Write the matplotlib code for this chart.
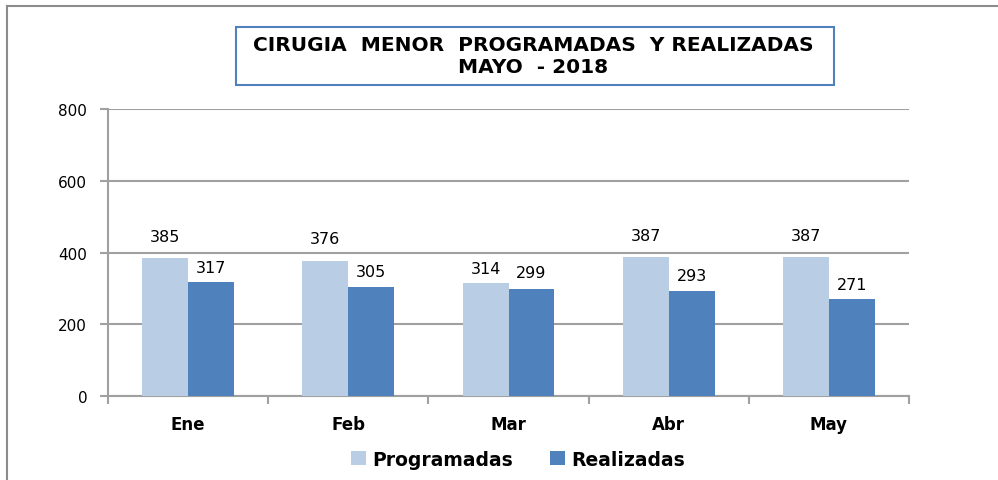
import matplotlib.pyplot as plt
import numpy as np
from matplotlib.lines import Line2D
from matplotlib.patches import Rectangle

# Data
meses = ["Ene", "Feb", "Mar", "Abr", "May"]
programadas = [385, 376, 314, 387, 387]
realizadas = [317, 305, 299, 293, 271]

titulo = "CIRUGIA  MENOR  PROGRAMADAS  Y REALIZADAS\nMAYO  - 2018"

c_prog = "#B9CDE5"
c_real = "#4F81BD"
grid_c = "#A0A0A0"

# label lift above the bar top (pixels), as placed in the original
lift_prog = [21, 23, 15, 22, 22]
lift_real = [15, 15, 16, 15, 14]

plt.rcParams["font.family"] = ["DejaVu Sans"]

fig = plt.figure(figsize=(9.98, 4.81), dpi=100)
ax = fig.add_axes([108 / 998, 1 - 397 / 481, (909 - 108) / 998, (397 - 110) / 481])

x = np.arange(len(meses))
w = 0.287
b1 = ax.bar(x - w / 2, programadas, w, color=c_prog, label="Programadas", zorder=3)
b2 = ax.bar(x + w / 2, realizadas, w, color=c_real, label="Realizadas", zorder=3)

for bars, lifts in ((b1, lift_prog), (b2, lift_real)):
    for r, lift in zip(bars, lifts):
        ax.annotate(f"{int(r.get_height())}", (r.get_x() + r.get_width() / 2, r.get_height()),
                    xytext=(0, lift * 0.72), textcoords="offset points", ha="center",
                    va="center", fontsize=11.5, color="black")

ax.set_xlim(-0.5, len(meses) - 0.5)
ax.set_ylim(0, 800)
ax.set_yticks([0, 200, 400, 600, 800])
ax.yaxis.grid(True, color=grid_c, linewidth=1.5, zorder=0)
ax.set_axisbelow(True)

ax.set_xticks(x)
ax.set_xticklabels(meses, fontsize=12, fontweight="bold")
ax.set_xticks(np.arange(len(meses) + 1) - 0.5, minor=True)
ax.tick_params(axis="x", which="major", length=0, pad=14)
ax.tick_params(axis="x", which="minor", length=6, color=grid_c, width=1.5, direction="out")
ax.tick_params(axis="y", length=6, color=grid_c, width=1.5, labelsize=11, pad=9)

for s in ("top", "right"):
    ax.spines[s].set_visible(False)
for s in ("left", "bottom"):
    ax.spines[s].set_color(grid_c)
    ax.spines[s].set_linewidth(1.5)

leg = fig.legend(loc="center", bbox_to_anchor=(518 / 998, 1 - 460 / 481), ncol=2,
                 frameon=False, prop={"weight": "bold", "size": 13.5},
                 handlelength=0.8, handleheight=0.8, handletextpad=0.3, columnspacing=2.0)

# Title box
fig.text(533 / 998, 1 - 57 / 481, titulo, ha="center", va="center",
         fontsize=14.5, fontweight="bold", linespacing=1.2)
fig.patches.append(Rectangle((236 / 998, 1 - 86 / 481), (834 - 236) / 998, (86 - 28) / 481,
                             transform=fig.transFigure, fill=False,
                             edgecolor="#4F81BD", linewidth=1.5))

# Outer chart border (only left and top edges fall inside the image)
bx, by = 6.5 / 998, 1 - 6.5 / 481
fig.lines.append(Line2D([bx, bx], [0, by], transform=fig.transFigure, color="#8C8C8C", linewidth=1.5))
fig.lines.append(Line2D([bx, 1], [by, by], transform=fig.transFigure, color="#8C8C8C", linewidth=1.5))

fig.savefig("out.png", dpi=100)
